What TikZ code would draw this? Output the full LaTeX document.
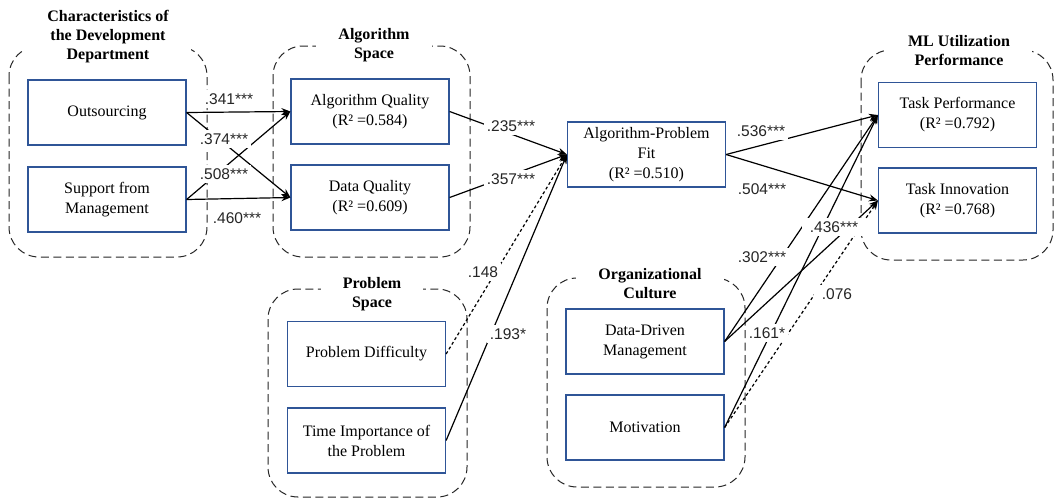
\documentclass[tikz,border=0pt]{standalone}
\usepackage{fontspec}
\setmainfont{Liberation Serif}
\newfontfamily\labfont{Liberation Sans}
\usetikzlibrary{arrows.meta}
\definecolor{boxblue}{RGB}{47,85,151}
\begin{document}
\begin{tikzpicture}[x=1pt,y=-1pt,
  grp/.style={draw=black!85, dash pattern=on 8pt off 4.5pt, line width=1pt, rounded corners=30pt},
  var/.style={draw=boxblue, line width=1.2pt, fill=white, minimum width=158pt, minimum height=65pt, align=center, font=\fontsize{16}{20}\selectfont, inner sep=2pt},
  ttl/.style={fill=white, align=center, font=\bfseries\fontsize{16}{19}\selectfont, inner xsep=22pt, inner ysep=1pt},
  lab/.style={fill=white, text=black!85, font=\labfont\fontsize{15.5}{18}\selectfont, inner xsep=3pt, inner ysep=4pt},
  arr/.style={-{Stealth[length=9pt,width=7pt]}, line width=1.2pt},
  dsh/.style={arr, dash pattern=on 3pt off 2.5pt}]
\useasboundingbox (0,0) rectangle (1056,499);
\fill[white] (0,0) rectangle (1056,499);
% groups
\draw[grp] (9,46) rectangle (207,257);
\draw[grp] (273,46) rectangle (470,257);
\draw[grp] (861,50) rectangle (1053,260);
\draw[grp] (268,289) rectangle (467,497);
\draw[grp] (547,278) rectangle (745,487);
% variables
\node[var] (out) at (107,112.5) {Outsourcing};
\node[var] (sup) at (107,199.5) {Support from\\Management};
\node[var] (aq) at (370,111.5) {Algorithm Quality\\(R² =0.584)};
\node[var] (dq) at (370,197.5) {Data Quality\\(R² =0.609)};
\node[var] (apf) at (646.5,154.5) {Algorithm-Problem\\Fit\\(R² =0.510)};
\node[var] (tp) at (957.5,115) {Task Performance\\(R² =0.792)};
\node[var] (ti) at (957.5,200.5) {Task Innovation\\(R² =0.768)};
\node[var] (pd) at (366.5,354) {Problem Difficulty};
\node[var] (tim) at (366.5,440.5) {Time Importance of\\the Problem};
\node[var] (ddm) at (645,341.5) {Data-Driven\\Management};
\node[var] (mot) at (645,427.5) {Motivation};
% edges
\draw[arr] (out.east) -- (aq.west);
\draw[arr] (out.east) -- (dq.west);
\draw[arr] (sup.east) -- (aq.west);
\draw[arr] (sup.east) -- (dq.west);
\draw[arr] (aq.east) -- (apf.west);
\draw[arr] (dq.east) -- (apf.west);
\draw[dsh] (pd.east) -- (apf.west);
\draw[arr] (tim.east) -- (apf.west);
\draw[arr] (apf.east) -- (tp.west);
\draw[arr] (apf.east) -- (ti.west);
\draw[arr] (ddm.east) -- (tp.west);
\draw[arr] (ddm.east) -- (ti.west);
\draw[arr] (mot.east) -- (tp.west);
\draw[dsh] (mot.east) -- (ti.west);
% labels
\node[lab] (l1) at (229,99) {.341***};
\node[lab] (l2) at (224,139) {.374***};
\node[lab] (l3) at (224,174) {.508***};
\node[lab] (l4) at (237,218) {.460***};
\node[lab] (l5) at (511,126) {.235***};
\node[lab] (l6) at (511,179) {.357***};
\node[lab] (l7) at (483,272) {.148};
\node[lab] (l8) at (508,334) {.193*};
\node[lab] (l9) at (761,131) {.536***};
\node[lab] (l10) at (762,189) {.504***};
\node[lab, inner xsep=8pt] (l11) at (834,227) {.436***};
\node[lab] (l12) at (762,257) {.302***};
\node[lab, inner xsep=8pt] (l13) at (837,294) {.076};
\node[lab] (l14) at (767,333) {.161*};
% titles
\node[ttl] (t1) at (108,37) {Characteristics of\\the Development\\Department};
\node[ttl] (t2) at (374,45.5) {Algorithm\\Space};
\node[ttl] (t3) at (959,51) {ML Utilization\\Performance};
\node[ttl] (t4) at (372,294) {Problem\\Space};
\node[ttl] (t5) at (650,284) {Organizational\\Culture};
\end{tikzpicture}
\end{document}
